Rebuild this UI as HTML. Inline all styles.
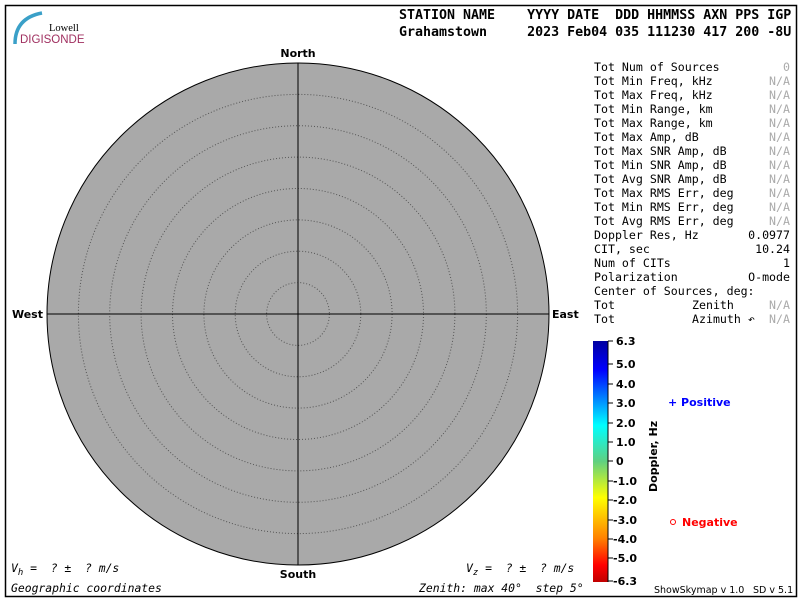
<!DOCTYPE html>
<html><head><style>
body{margin:0;background:#fff;}
svg{display:block}
.m{font-family:"DejaVu Sans Mono","Liberation Mono",monospace;font-size:11.6px;}
.h{font-family:"DejaVu Sans Mono","Liberation Mono",monospace;font-size:13.3px;font-weight:bold;}
.g{fill:#aaa}
.b{font-family:"DejaVu Sans","Liberation Sans",sans-serif;font-weight:bold;font-size:11px;}
.i{font-family:"DejaVu Sans Mono","Liberation Mono",monospace;font-style:italic;font-size:11.4px;}
</style></head><body>
<svg width="800" height="600" xmlns="http://www.w3.org/2000/svg">
<defs>
<linearGradient id="cb" x1="0" y1="0" x2="0" y2="1">
<stop offset="0" stop-color="#0000a0"/>
<stop offset="0.12" stop-color="#0000ff"/>
<stop offset="0.35" stop-color="#00ffff"/>
<stop offset="0.5" stop-color="#60d080"/>
<stop offset="0.65" stop-color="#ffff00"/>
<stop offset="0.82" stop-color="#ff8000"/>
<stop offset="0.93" stop-color="#ff0000"/>
<stop offset="1" stop-color="#c00000"/>
</linearGradient>
</defs>
<rect x="5.5" y="5.5" width="791" height="591" fill="none" stroke="#000" stroke-width="1.5"/>
<path d="M15 44 Q15 18 42 13" fill="none" stroke="#3aa0c8" stroke-width="3.5"/>
<text x="49" y="31" font-family="Liberation Serif,serif" font-size="10.5">Lowell</text>
<text x="20" y="43" font-family="Liberation Sans,sans-serif" font-size="11.5" fill="#a03060">DIGISONDE</text>
<text class="h" x="399" y="19" xml:space="preserve">STATION NAME    YYYY DATE  DDD HHMMSS AXN PPS IGP</text>
<text class="h" x="399" y="36" xml:space="preserve">Grahamstown     2023 Feb04 035 111230 417 200 -8U</text>
<circle cx="298" cy="314" r="251" fill="#a9a9a9" stroke="#000" stroke-width="1"/>
<g fill="none" stroke="#555" stroke-width="1" stroke-dasharray="1,2">
<circle cx="298" cy="314" r="31.4"/><circle cx="298" cy="314" r="62.8"/><circle cx="298" cy="314" r="94.1"/>
<circle cx="298" cy="314" r="125.5"/><circle cx="298" cy="314" r="156.9"/><circle cx="298" cy="314" r="188.3"/>
<circle cx="298" cy="314" r="219.6"/>
</g>
<line x1="298" y1="63" x2="298" y2="565" stroke="#000"/>
<line x1="47" y1="314" x2="549" y2="314" stroke="#000"/>
<text class="b" x="298" y="57" text-anchor="middle">North</text>
<text class="b" x="298" y="578" text-anchor="middle">South</text>
<text class="b" x="43" y="318" text-anchor="end">West</text>
<text class="b" x="552" y="318">East</text>
<g class="m">
<text x="594" y="71">Tot Num of Sources</text><text class="g" x="790" y="71" text-anchor="end">0</text>
<text x="594" y="85">Tot Min Freq, kHz</text><text class="g" x="790" y="85" text-anchor="end">N/A</text>
<text x="594" y="99">Tot Max Freq, kHz</text><text class="g" x="790" y="99" text-anchor="end">N/A</text>
<text x="594" y="113">Tot Min Range, km</text><text class="g" x="790" y="113" text-anchor="end">N/A</text>
<text x="594" y="127">Tot Max Range, km</text><text class="g" x="790" y="127" text-anchor="end">N/A</text>
<text x="594" y="141">Tot Max Amp, dB</text><text class="g" x="790" y="141" text-anchor="end">N/A</text>
<text x="594" y="155">Tot Max SNR Amp, dB</text><text class="g" x="790" y="155" text-anchor="end">N/A</text>
<text x="594" y="169">Tot Min SNR Amp, dB</text><text class="g" x="790" y="169" text-anchor="end">N/A</text>
<text x="594" y="183">Tot Avg SNR Amp, dB</text><text class="g" x="790" y="183" text-anchor="end">N/A</text>
<text x="594" y="197">Tot Max RMS Err, deg</text><text class="g" x="790" y="197" text-anchor="end">N/A</text>
<text x="594" y="211">Tot Min RMS Err, deg</text><text class="g" x="790" y="211" text-anchor="end">N/A</text>
<text x="594" y="225">Tot Avg RMS Err, deg</text><text class="g" x="790" y="225" text-anchor="end">N/A</text>
<text x="594" y="239">Doppler Res, Hz</text><text x="790" y="239" text-anchor="end">0.0977</text>
<text x="594" y="253">CIT, sec</text><text x="790" y="253" text-anchor="end">10.24</text>
<text x="594" y="267">Num of CITs</text><text x="790" y="267" text-anchor="end">1</text>
<text x="594" y="281">Polarization</text><text x="790" y="281" text-anchor="end">O-mode</text>
<text x="594" y="295">Center of Sources, deg:</text>
<text x="594" y="323" dy="-14">Tot</text><text x="692" y="309">Zenith</text><text class="g" x="790" y="309" text-anchor="end">N/A</text>
<text x="594" y="323">Tot</text><text x="692" y="323">Azimuth ↶</text><text class="g" x="790" y="323" text-anchor="end">N/A</text>
</g>
<rect x="593" y="341" width="15" height="241" fill="url(#cb)"/>
<g stroke="#000"><line x1="608" y1="341" x2="608" y2="582"/>
<line x1="608" y1="341" x2="613" y2="341"/><line x1="608" y1="364" x2="613" y2="364"/><line x1="608" y1="384" x2="613" y2="384"/>
<line x1="608" y1="403" x2="613" y2="403"/><line x1="608" y1="423" x2="613" y2="423"/><line x1="608" y1="442" x2="613" y2="442"/>
<line x1="608" y1="461" x2="613" y2="461"/><line x1="608" y1="481" x2="613" y2="481"/><line x1="608" y1="500" x2="613" y2="500"/>
<line x1="608" y1="520" x2="613" y2="520"/><line x1="608" y1="539" x2="613" y2="539"/><line x1="608" y1="558" x2="613" y2="558"/>
<line x1="608" y1="581" x2="613" y2="581"/></g>
<g class="b" font-size="11">
<text x="616" y="345">6.3</text><text x="616" y="368">5.0</text>
<text x="616" y="388">4.0</text><text x="616" y="407">3.0</text><text x="616" y="427">2.0</text><text x="616" y="446">1.0</text>
<text x="616" y="465">0</text><text x="613" y="485">-1.0</text><text x="613" y="504">-2.0</text><text x="613" y="524">-3.0</text>
<text x="613" y="543">-4.0</text><text x="613" y="562">-5.0</text><text x="613" y="585">-6.3</text>
</g>
<text class="b" font-size="9" transform="translate(657,492) rotate(-90)">Doppler, Hz</text>
<text class="b" font-size="10.5" x="668" y="406" fill="#0000ff">+ Positive</text>
<circle cx="673" cy="522" r="2.5" fill="none" stroke="#f00"/>
<text class="b" font-size="10.5" x="682" y="526" fill="#f00">Negative</text>
<text font-family="DejaVu Sans,sans-serif" font-size="9.5" x="654" y="593">ShowSkymap v 1.0</text>
<text font-family="DejaVu Sans,sans-serif" font-size="9.5" x="753" y="593">SD v 5.1</text>
<text class="i" x="11" y="572" xml:space="preserve">V<tspan font-size="9" dy="3">h</tspan><tspan dy="-3"> =  ? ±  ? m/s</tspan></text>
<text class="i" x="466" y="572" xml:space="preserve">V<tspan font-size="9" dy="3">z</tspan><tspan dy="-3"> =  ? ±  ? m/s</tspan></text>
<text class="i" x="11" y="592">Geographic coordinates</text>
<text class="i" x="419" y="592" xml:space="preserve">Zenith: max 40°  step 5°</text>
</svg>
</body></html>
